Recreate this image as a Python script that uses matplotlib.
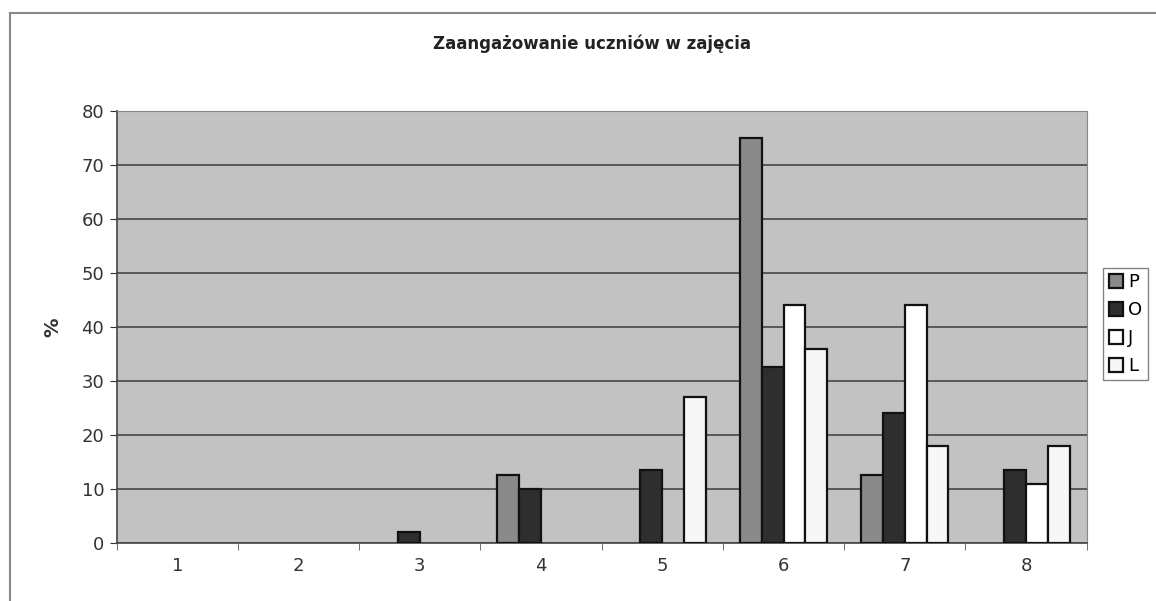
import numpy as np
import matplotlib.pyplot as plt
from matplotlib.lines import Line2D

# kategorie (oś X) i serie
categories = ['1', '2', '3', '4', '5', '6', '7', '8']
P = [0, 0, 0, 12.5, 0, 75, 12.5, 0]
O = [0, 0, 2, 10, 13.5, 32.5, 24, 13.5]
J = [0, 0, 0, 0, 0, 44, 44, 11]
L = [0, 0, 0, 0, 27, 36, 18, 18]

series = [('P', P, '#8a8a8a'), ('O', O, '#2e2e2e'), ('J', J, '#ffffff'), ('L', L, '#f7f7f7')]

fig = plt.figure(figsize=(11.56, 6.01), dpi=100)
ax = fig.add_axes([0.101, 0.0965, 0.839, 0.719])
ax.set_facecolor('#c2c2c2')

x = np.arange(len(categories))
w = 0.18
for i, (name, vals, col) in enumerate(series):
    v = np.array(vals, dtype=float)
    v[v == 0] = np.nan  # zero values are not drawn (no flat outline)
    ax.bar(x + (i - 1.5) * w, v, w, color=col, edgecolor='#111111',
           linewidth=1.6, label=name, zorder=3)

ax.set_xlim(-0.5, len(categories) - 0.5)
ax.set_ylim(0, 80)
ax.set_yticks(range(0, 81, 10))
ax.set_xticks(x)
ax.set_xticklabels(categories)
ax.set_xticks(np.arange(-0.5, len(categories), 1), minor=True)
ax.tick_params(axis='x', which='major', length=0, pad=10, labelsize=13, colors='#333333')
ax.tick_params(axis='x', which='minor', length=5, color='#555555')
ax.tick_params(axis='y', length=5, labelsize=13, colors='#333333', pad=4)
ax.yaxis.grid(True, color='#3c3c3c', linewidth=1.1, zorder=0)
for s in ['left', 'bottom']:
    ax.spines[s].set_color('#444444')
    ax.spines[s].set_linewidth(1.2)
for s in ['top', 'right']:
    ax.spines[s].set_color('#888888')
ax.set_ylabel('%', fontsize=14, fontweight='bold', color='#333333', labelpad=14)

fig.text(0.512, 0.927, 'Zaangażowanie uczniów w zajęcia', ha='center', va='center',
         fontsize=12, fontweight='bold', color='#222222')

ax.legend(loc='upper left', bbox_to_anchor=(1.017, 0.637), frameon=True,
          fancybox=False, edgecolor='#666666', fontsize=13, handlelength=0.8,
          handleheight=0.8, handletextpad=0.3, borderpad=0.3, labelspacing=0.55,
          borderaxespad=0)

# ramka wykresu (górna i lewa krawędź)
fig.add_artist(Line2D([0.009, 1.0], [0.978, 0.978], color='#888888', linewidth=1.5))
fig.add_artist(Line2D([0.009, 0.009], [0.0, 0.978], color='#888888', linewidth=1.5))

fig.savefig('out.png', dpi=100)
